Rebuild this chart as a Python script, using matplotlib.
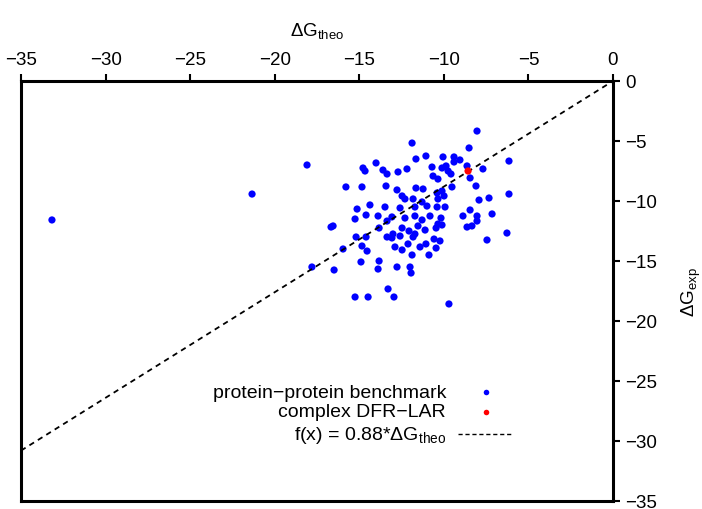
import matplotlib
matplotlib.use("Agg")
import matplotlib.pyplot as plt

plt.rcParams['font.family'] = ['Liberation Sans', 'DejaVu Sans']
plt.rcParams['mathtext.fontset'] = 'custom'
plt.rcParams['mathtext.rm'] = 'Liberation Sans'
plt.rcParams['mathtext.it'] = 'Liberation Sans:italic'

# benchmark points (ΔG_theo, ΔG_exp)
bench_x = [-33.17, -21.34, -18.09, -14.78, -14.66, -14.01, -13.60, -13.36, -15.79, -14.84,
           -13.42, -15.13, -14.37, -13.48, -14.60, -8.04, -11.88, -8.51, -11.06, -11.65,
           -10.05, -9.40, -9.05, -9.40, -12.71, -12.18, -10.70, -10.11, -9.87, -9.75,
           -9.58, -8.63, -10.64, -10.35, -8.45, -8.10, -12.77, -11.65, -11.23, -9.52,
           -12.47, -12.30, -11.82, -10.40, -10.11, -9.99, -10.35, -12.59, -11.71, -11.29,
           -11.00, -10.40, -9.93, -8.45, -7.92, -6.15, -7.69, -6.15, -7.33, -7.15,
           -8.87, -8.04, -8.04, -8.63, -8.34, -16.67, -16.55, -15.25, -13.89, -13.36,
           -13.83, -15.19, -14.60, -13.36, -14.84, -14.54, -15.96, -17.80, -16.49, -14.90,
           -13.83, -13.89, -15.25, -14.48, -13.30, -13.07, -12.30, -11.71, -11.29, -10.82,
           -10.17, -10.35, -10.11, -10.46, -12.47, -12.06, -11.53, -11.11, -13.01, -12.59,
           -11.71, -11.82, -13.07, -10.58, -10.23, -12.12, -11.06, -11.41, -12.89, -12.47,
           -10.46, -11.88, -10.88, -12.77, -12.00, -11.94, -12.95, -9.70, -6.27, -7.45]
bench_y = [-11.58, -9.42, -7.00, -7.25, -7.50, -6.83, -7.42, -7.75, -8.83, -8.83,
           -8.75, -10.67, -10.33, -10.50, -11.17, -4.17, -5.17, -5.58, -6.25, -6.50,
           -6.33, -6.33, -6.58, -6.75, -7.58, -7.33, -7.17, -7.25, -7.08, -7.50,
           -7.75, -7.08, -7.92, -8.17, -8.08, -8.75, -9.08, -8.92, -9.00, -8.83,
           -9.58, -9.83, -9.83, -9.33, -9.17, -9.58, -9.83, -10.58, -10.50, -10.08,
           -10.42, -10.50, -10.50, -10.75, -9.92, -6.67, -7.33, -9.42, -9.75, -11.08,
           -11.25, -11.25, -11.67, -12.17, -12.08, -12.17, -12.08, -11.50, -11.25, -11.67,
           -12.25, -13.00, -13.00, -13.00, -13.75, -14.17, -14.00, -15.50, -15.75, -15.08,
           -15.00, -15.67, -18.00, -18.00, -17.33, -11.33, -11.42, -11.25, -11.58, -11.25,
           -11.42, -11.92, -12.00, -12.25, -12.25, -12.50, -12.08, -12.42, -12.75, -12.92,
           -12.75, -13.00, -13.08, -13.17, -13.33, -13.58, -13.58, -13.83, -13.83, -14.08,
           -13.92, -14.50, -14.50, -15.50, -15.50, -16.00, -18.00, -18.58, -12.67, -13.25]

# complex DFR-LAR
dfr_x = [-8.57]
dfr_y = [-7.50]

slope = 0.88
fit_x = [-35, 0]

xticks = [-35, -30, -25, -20, -15, -10, -5, 0]
yticks = [0, -5, -10, -15, -20, -25, -30, -35]

fig = plt.figure(figsize=(7.02, 5.10), dpi=100)
ax = fig.add_axes([21/702, 1-502/510, 592/702, 420/510])

ax.plot(fit_x, [slope*v for v in fit_x], color='black', lw=1.3, ls=(0, (3, 2.5)), zorder=3)
ax.scatter(bench_x, bench_y, s=27, color='#0000ff', edgecolors='none', zorder=2)
ax.scatter(dfr_x, dfr_y, s=27, color='#ff0000', edgecolors='none', zorder=4)

ax.set_xlim(-35, 0)
ax.set_ylim(-35, 0)
ax.set_xticks(xticks)
ax.set_yticks(yticks)
ax.xaxis.tick_top()
ax.yaxis.tick_right()
ax.tick_params(axis='both', direction='out', length=5, width=1.5, labelsize=13.5, pad=4)
for sp in ax.spines.values():
    sp.set_linewidth(2.2)

ax.set_xlabel(r'$\Delta$G$_{\rm theo}$', fontsize=13.5, labelpad=12)
ax.xaxis.set_label_position('top')
ax.set_ylabel(r'$\Delta$G$_{\rm exp}$', fontsize=13.5, labelpad=16)
ax.yaxis.set_label_position('right')

# gnuplot-style key
key_rows = [0.2595, 0.212, 0.1595]
key_fs = 14
ax.text(0.718, key_rows[0], 'protein\u2212protein benchmark', transform=ax.transAxes,
        ha='right', va='center', fontsize=key_fs)
ax.text(0.718, key_rows[1], 'complex DFR\u2212LAR', transform=ax.transAxes,
        ha='right', va='center', fontsize=key_fs)
ax.text(0.718, key_rows[2], r'f(x) = 0.88*$\Delta$G$_{\rm theo}$', transform=ax.transAxes,
        ha='right', va='center', fontsize=key_fs)
ax.plot([0.785], [key_rows[0]], 'o', ms=4, color='#0000ff', mec='none', transform=ax.transAxes)
ax.plot([0.785], [key_rows[1]], 'o', ms=4, color='#ff0000', mec='none', transform=ax.transAxes)
ax.plot([0.738, 0.831], [key_rows[2], key_rows[2]], color='black', lw=1.0, ls=(0, (3, 2)),
        transform=ax.transAxes)

fig.savefig('out.png', dpi=100)
